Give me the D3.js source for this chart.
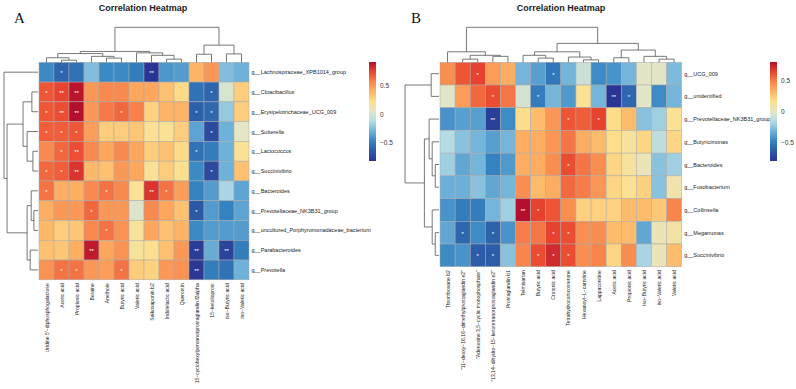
<!DOCTYPE html>
<html><head><meta charset="utf-8">
<script src="https://cdn.jsdelivr.net/npm/d3@7"></script>
<style>body{margin:0;background:#fff} svg{display:block}</style>
</head><body>
<svg id="chart" width="796" height="389"></svg>
<script>
// ---------------- Panel A data ----------------
const rowsA = ["g__Lachnospiraceae_XPB1014_group","g__Cloacibacillus","g__Erysipelotrichaceae_UCG_009","g__Sutterella","g__Lactococcus","g__Succinivibrio","g__Bacteroides","g__Prevotellaceae_NK3B31_group","g__uncultured_Porphyromonadaceae_bacterium","g__Parabacteroides","g__Prevotella"];
const colsA = ["Uridine 5'−diphosphogalactose","Acetic acid","Propionic acid","Betaine","Anethole","Butyric acid","Valeric acid","Saikosaponin b2","Indolelactic acid","Quercetin","15−cyclohexylpentanorprostaglandin f2alpha","15−ketoiloprost","iso−Butyric acid","iso−Valeric acid"];
const valuesA = [
 [-0.45,-0.60,-0.55,-0.25,-0.45,-0.45,-0.50,-0.82,-0.40,-0.38, 0.40, 0.50,-0.25,-0.30],
 [ 0.70, 0.75, 0.90, 0.50, 0.55, 0.55, 0.45, 0.45, 0.35, 0.25,-0.55,-0.60, 0.00, 0.30],
 [ 0.70, 0.72, 0.92, 0.50, 0.60, 0.65, 0.58, 0.28, 0.40, 0.40,-0.62,-0.58,-0.20, 0.30],
 [ 0.68, 0.68, 0.70, 0.48, 0.30, 0.30, 0.33, 0.20, 0.20, 0.30,-0.35,-0.72,-0.30, 0.05],
 [ 0.55, 0.65, 0.72, 0.55, 0.45, 0.55, 0.45, 0.30, 0.35, 0.25,-0.55,-0.50,-0.30, 0.20],
 [ 0.65, 0.68, 0.80, 0.38, 0.35, 0.50, 0.45, 0.20, 0.30, 0.22,-0.45,-0.72,-0.30, 0.35],
 [ 0.62, 0.42, 0.42, 0.55, 0.62, 0.55, 0.20, 0.80, 0.62, 0.48,-0.48,-0.38,-0.15,-0.35],
 [ 0.42, 0.50, 0.50, 0.65, 0.50, 0.50, 0.02, 0.55, 0.45, 0.35,-0.65,-0.38,-0.48,-0.35],
 [ 0.38, 0.30, 0.33, 0.55, 0.62, 0.52, 0.18, 0.45, 0.35, 0.40,-0.45,-0.38,-0.38,-0.38],
 [ 0.35, 0.33, 0.42, 0.88, 0.45, 0.52, 0.18, 0.22, 0.35, 0.50,-0.78,-0.32,-0.75,-0.50],
 [ 0.52, 0.62, 0.62, 0.50, 0.48, 0.62, 0.30, 0.28, 0.50, 0.52,-0.80,-0.50,-0.55,-0.30]
];
const sigA = [
 [0,1,0,0,0,0,0,2,0,0,0,0,0,0],
 [1,2,2,0,0,0,0,0,0,0,0,1,0,0],
 [1,2,2,0,0,1,0,0,0,0,1,1,0,0],
 [1,1,1,0,0,0,0,0,0,0,0,1,0,0],
 [0,1,2,0,0,0,0,0,0,0,1,0,0,0],
 [1,1,2,0,0,0,0,0,0,0,0,1,0,0],
 [1,0,0,0,1,0,0,2,1,0,0,0,0,0],
 [0,0,0,1,0,0,0,0,0,0,1,0,0,0],
 [0,0,0,0,1,0,0,0,0,0,0,0,0,0],
 [0,0,0,2,0,0,0,0,0,0,2,0,2,0],
 [0,1,1,0,0,1,0,0,0,0,2,0,0,0]
];
// dendrograms: [height, left, right], leaves are indices
const colTreeA = [1.0, [0.31, [0.25, [0.13, 0, [0.06, 1, 2]], [0.17, 3, [0.12, 4, 5]]], [0.27, 6, [0.20, 7, [0.09, 8, 9]]]], [0.49, [0.23, 10, 11], [0.24, 12, 13]]];
const rowTreeA = [1.0, 0, [0.91, [0.44, [0.18, 1, 2], [0.32, 3, [0.15, 4, 5]]], [0.32, [0.20, 6, [0.12, 7, 8]], [0.23, 9, 10]]]];

// ---------------- Panel B data ----------------
const rowsB = ["g__UCG_009","g__unidentified","g__Prevotellaceae_NK3B31_group","g__Butyricimonas","g__Bacteroides","g__Fusobacterium","g__Collinsella","g__Megamonas","g__Succinivibrio"];
const colsB = ["Thromboxane b2","\"11−deoxy−16,16−dimethylprostaglandin e2\"","\"Adenosine 3,5−cyclic monophosphate\"","\"13,14−dihydro−15−ketotetranorprostaglandin e2\"","Prostaglandin b1","Telmisartan","Butyric acid","Crotonic acid","Tetrahydrocorticosterone","Hexanoyl−L−carnitine","Lappaconitine","Acetic acid","Propionic acid","iso−Butyric acid","iso−Valeric acid","Valeric acid"];
const valuesB = [
 [ 0.45, 0.60, 0.65, 0.40, 0.35,-0.30,-0.38,-0.52,-0.30,-0.08,-0.45,-0.42,-0.30, 0.00, 0.00,-0.28],
 [ 0.00, 0.40, 0.55, 0.62, 0.52,-0.05,-0.50,-0.30,-0.40, 0.15,-0.30,-0.79,-0.58, 0.00,-0.45,-0.30],
 [-0.42,-0.38,-0.38,-0.75,-0.45, 0.18, 0.30, 0.42, 0.60, 0.58, 0.65, 0.18, 0.30,-0.25,-0.20, 0.15],
 [-0.15,-0.25,-0.30,-0.38,-0.30, 0.35, 0.35, 0.42, 0.52, 0.35, 0.30, 0.18, 0.12, 0.20,-0.12, 0.20],
 [-0.20,-0.35,-0.30,-0.48,-0.40, 0.35, 0.35, 0.45, 0.62, 0.52, 0.45, 0.20, 0.12, 0.05,-0.25,-0.20],
 [-0.32,-0.32,-0.25,-0.35,-0.30, 0.45, 0.30, 0.35, 0.55, 0.50, 0.42, 0.20, 0.15, 0.22,-0.25, 0.08],
 [-0.42,-0.50,-0.50,-0.30,-0.20, 0.80, 0.65, 0.60, 0.45, 0.22, 0.22, 0.22, 0.30, 0.30, 0.25, 0.48],
 [-0.35,-0.58,-0.45,-0.60,-0.42, 0.50, 0.52, 0.65, 0.62, 0.45, 0.45, 0.30, 0.30,-0.35, 0.05, 0.10],
 [-0.45,-0.42,-0.62,-0.62,-0.25, 0.48, 0.62, 0.72, 0.62, 0.45, 0.48, 0.20, 0.45,-0.18, 0.05, 0.30]
];
const sigB = [
 [0,0,1,0,0,0,0,1,0,0,0,0,0,0,0,0],
 [0,0,0,1,0,0,1,0,0,0,0,2,1,0,0,0],
 [0,0,0,2,0,0,0,0,1,0,1,0,0,0,0,0],
 [0,0,0,0,0,0,0,0,0,0,0,0,0,0,0,0],
 [0,0,0,0,0,0,0,0,1,0,0,0,0,0,0,0],
 [0,0,0,0,0,0,0,0,0,0,0,0,0,0,0,0],
 [0,0,0,0,0,2,1,0,0,0,0,0,0,0,0,0],
 [0,1,0,1,0,0,0,1,1,0,0,0,0,0,0,0],
 [0,0,1,1,0,0,1,1,1,0,0,0,0,0,0,0]
];
const colTreeB = [1.0, [0.30, 0, [0.20, [0.09, 1, 2], [0.17, 3, 4]]], [0.54, [0.30, [0.20, 5, [0.12, 6, 7]], [0.15, 8, [0.07, 9, 10]]], [0.35, [0.13, 11, 12], [0.17, 13, [0.09, 14, 15]]]]];
const rowTreeB = [1.0, [0.23, 0, 1], [0.43, [0.29, 2, [0.20, 3, [0.11, 4, 5]]], [0.20, 6, [0.11, 7, 8]]]];

const legendTicks = [-0.5, 0, 0.5];
const palette = ["#2b3593","#2c5aa6","#3584c1","#6fb2d9","#b4dbe6","#e4e6c6","#fde08e","#fdb566","#f8844c","#e9452f","#b40f2c"];

const svg = d3.select("#chart");
const FONT = "'Liberation Sans', Arial, sans-serif";

function drawPanel(cfg) {
  const g = svg.append("g");
  const x = d3.scaleBand().domain(d3.range(cfg.cols.length)).range([cfg.x0, cfg.x1]);
  const y = d3.scaleBand().domain(d3.range(cfg.rows.length)).range([cfg.y0, cfg.y1]);
  const ext = d3.extent(cfg.values.flat());
  const color = d3.scaleLinear()
    .domain(palette.map((_, i) => ext[0] + (ext[1] - ext[0]) * i / (palette.length - 1)))
    .range(palette).interpolate(d3.interpolateRgb);

  // cells
  const cells = [];
  cfg.values.forEach((row, i) => row.forEach((v, j) => cells.push({i, j, v, s: cfg.sig[i][j]})));
  g.selectAll("rect.cell").data(cells).join("rect")
    .attr("x", d => x(d.j)).attr("y", d => y(d.i))
    .attr("width", x.bandwidth()).attr("height", y.bandwidth())
    .attr("fill", d => color(d.v)).attr("stroke", "#aaaaaa").attr("stroke-width", 0.5);
  g.selectAll("text.sig").data(cells.filter(d => d.s > 0)).join("text")
    .attr("x", d => x(d.j) + x.bandwidth() / 2)
    .attr("y", d => y(d.i) + y.bandwidth() / 2 + 3)
    .attr("text-anchor", "middle").attr("fill", "#fff")
    .attr("font-family", FONT).attr("font-size", 6)
    .text(d => "*".repeat(d.s));

  // row labels
  g.selectAll("text.rl").data(cfg.rows).join("text")
    .attr("x", cfg.x1 + 2.5).attr("y", (d, i) => y(i) + y.bandwidth() / 2)
    .attr("dominant-baseline", "central")
    .attr("font-family", FONT).attr("font-size", 5.5).attr("fill", "#222")
    .text(d => d);
  // column labels
  g.selectAll("text.cl").data(cfg.cols).join("text")
    .attr("transform", (d, j) => `translate(${x(j) + x.bandwidth() / 2},${cfg.y1 + 3.5}) rotate(-90)`)
    .attr("text-anchor", "end").attr("dominant-baseline", "central")
    .attr("font-family", FONT).attr("font-size", 5.05).attr("fill", "#222")
    .text(d => d);

  // dendrograms
  const lines = [];
  function walk(node, posOf) {
    if (typeof node === "number") return {p: posOf(node), h: 0};
    const [h, a, b] = node;
    const A = walk(a, posOf), B = walk(b, posOf);
    lines.push({type: "h", p1: A.p, p2: B.p, h});
    lines.push({type: "v", p: A.p, h1: A.h, h2: h});
    lines.push({type: "v", p: B.p, h1: B.h, h2: h});
    return {p: (A.p + B.p) / 2, h};
  }
  // column tree (top)
  lines.length = 0;
  walk(cfg.colTree, j => x(j) + x.bandwidth() / 2);
  const hy = d3.scaleLinear().domain([0, 1]).range([cfg.y0, cfg.colTop]);
  g.selectAll("line.cd").data(lines.slice()).join("line")
    .attr("x1", d => d.type === "h" ? d.p1 : d.p).attr("x2", d => d.type === "h" ? d.p2 : d.p)
    .attr("y1", d => d.type === "h" ? hy(d.h) : hy(d.h1)).attr("y2", d => d.type === "h" ? hy(d.h) : hy(d.h2))
    .attr("stroke", "#555").attr("stroke-width", 0.8);
  // row tree (left)
  lines.length = 0;
  walk(cfg.rowTree, i => y(i) + y.bandwidth() / 2);
  const hx = d3.scaleLinear().domain([0, 1]).range([cfg.x0 - 1, cfg.rowLeft]);
  g.selectAll("line.rd").data(lines.slice()).join("line")
    .attr("y1", d => d.type === "h" ? d.p1 : d.p).attr("y2", d => d.type === "h" ? d.p2 : d.p)
    .attr("x1", d => d.type === "h" ? hx(d.h) : hx(d.h1)).attr("x2", d => d.type === "h" ? hx(d.h) : hx(d.h2))
    .attr("stroke", "#555").attr("stroke-width", 0.8);

  // title and letter
  g.append("text").attr("x", cfg.titleX).attr("y", 10.5).attr("text-anchor", "middle")
    .attr("font-family", FONT).attr("font-weight", "bold").attr("font-size", 9).attr("fill", "#222")
    .text("Correlation Heatmap");
  g.append("text").attr("x", cfg.letterX).attr("y", 22.5)
    .attr("font-family", "'Liberation Serif', 'Times New Roman', serif").attr("font-size", 15).attr("fill", "#111")
    .text(cfg.letter);

  // legend
  const gradId = "grad" + cfg.letter;
  const grad = svg.append("defs").append("linearGradient").attr("id", gradId)
    .attr("x1", 0).attr("y1", 1).attr("x2", 0).attr("y2", 0);
  d3.range(0, 1.0001, 0.02).forEach(t => grad.append("stop").attr("offset", t).attr("stop-color", color(ext[0] + t * (ext[1] - ext[0]))));
  const ly = d3.scaleLinear().domain(ext).range([cfg.legBottom, cfg.legTop]);
  g.append("rect").attr("x", cfg.legX).attr("y", cfg.legTop).attr("width", 7).attr("height", cfg.legBottom - cfg.legTop)
    .attr("fill", `url(#${gradId})`);
  g.selectAll("text.lt").data(legendTicks).join("text")
    .attr("x", cfg.legX + 11).attr("y", d => ly(d)).attr("dominant-baseline", "central")
    .attr("font-family", FONT).attr("font-size", 6.5).attr("fill", "#333")
    .text(d => d3.format(".1~f")(d).replace("-", "−"));
}

drawPanel({rows: rowsA, cols: colsA, values: valuesA, sig: sigA, colTree: colTreeA, rowTree: rowTreeA,
  x0: 39, x1: 249, y0: 62.3, y1: 279.8, colTop: 27.3, rowLeft: 4,
  titleX: 143, letter: "A", letterX: 14, legX: 369, legTop: 62, legBottom: 161});
drawPanel({rows: rowsB, cols: colsB, values: valuesB, sig: sigB, colTree: colTreeB, rowTree: rowTreeB,
  x0: 440, x1: 681.7, y0: 62.3, y1: 266.7, colTop: 27.3, rowLeft: 405,
  titleX: 561, letter: "B", letterX: 411, legX: 770, legTop: 62, legBottom: 161});
</script>
</body></html>
